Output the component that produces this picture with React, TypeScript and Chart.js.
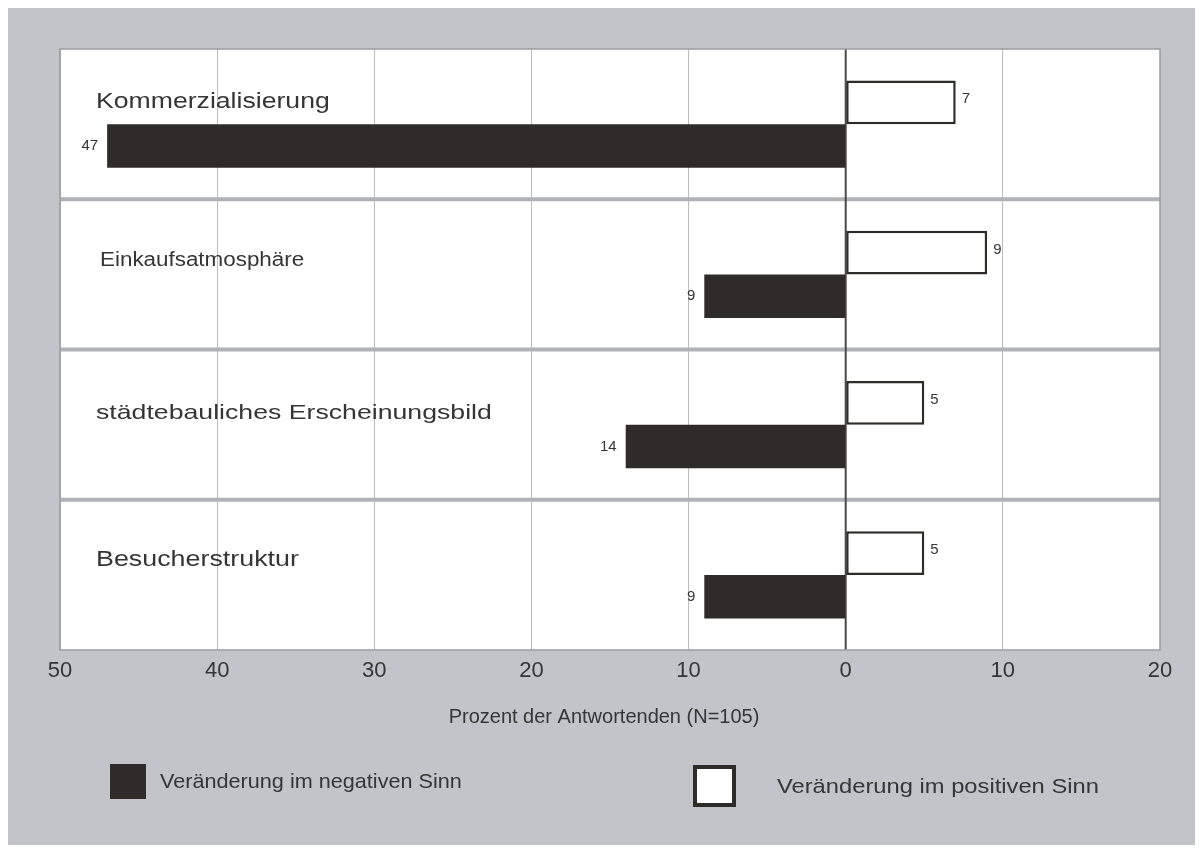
import React, { useEffect, useRef } from "react";
import { Chart, registerables } from "chart.js";

Chart.register(...registerables);

// ---- data ----
const categories = [
  "Kommerzialisierung",
  "Einkaufsatmosphäre",
  "städtebauliches Erscheinungsbild",
  "Besucherstruktur",
];
const positiveValues = [7, 9, 5, 5];
const negativeValues = [47, 9, 14, 9];
const xMin = -50;
const xMax = 20;
const xStep = 10;
const axisTitle = "Prozent der Antwortenden (N=105)";
const legendNegative = "Veränderung im negativen Sinn";
const legendPositive = "Veränderung im positiven Sinn";

// ---- styles ----
const FONT = '"Liberation Sans", Arial, Helvetica, sans-serif';
const TEXT = "#353535";
const DARK = "#2f2b29";
const PANEL = "#c2c4c9";
const SEPARATOR = "#b0b2b8";
const GRID = "#bcbcbc";
// per-label style: font size, horizontal stretch, x offset from plot left, baseline offset from top of positive bar
const labelStyle = [
  { size: 22, sx: 1.21, dx: 36, dy: 27 },
  { size: 20, sx: 1.12, dx: 40, dy: 35 },
  { size: 21, sx: 1.27, dx: 36, dy: 38 },
  { size: 22, sx: 1.22, dx: 36, dy: 35 },
];

function drawText(
  ctx: CanvasRenderingContext2D,
  text: string,
  x: number,
  y: number,
  size: number,
  sx: number,
  align: CanvasTextAlign = "left",
  baseline: CanvasTextBaseline = "alphabetic"
) {
  ctx.save();
  ctx.font = `${size}px ${FONT}`;
  ctx.fillStyle = TEXT;
  ctx.textAlign = align;
  ctx.textBaseline = baseline;
  ctx.translate(x, y);
  ctx.scale(sx, 1);
  ctx.fillText(text, 0, 0);
  ctx.restore();
}

const overlayPlugin = {
  id: "overlay",
  beforeDraw(chart: any) {
    const { ctx, chartArea: a } = chart;
    ctx.save();
    ctx.fillStyle = "#ffffff";
    ctx.fillRect(a.left, a.top, a.right - a.left, a.bottom - a.top);
    ctx.restore();
  },
  beforeDatasetsDraw(chart: any) {
    const { ctx, chartArea: a, scales } = chart;
    const x = scales.x;
    const y = scales.y;
    ctx.save();
    ctx.strokeStyle = SEPARATOR;
    ctx.lineWidth = 4;
    for (let i = 0; i < categories.length - 1; i++) {
      const yy = (y.getPixelForValue(i) + y.getPixelForValue(i + 1)) / 2;
      ctx.beginPath();
      ctx.moveTo(a.left, yy);
      ctx.lineTo(a.right, yy);
      ctx.stroke();
    }
    // zero line
    const x0 = x.getPixelForValue(0);
    ctx.strokeStyle = "#4a4a4a";
    ctx.lineWidth = 2;
    ctx.beginPath();
    ctx.moveTo(x0, a.top);
    ctx.lineTo(x0, a.bottom);
    ctx.stroke();
    // plot border
    ctx.strokeStyle = "#9a9ca2";
    ctx.lineWidth = 1.5;
    ctx.strokeRect(a.left, a.top, a.right - a.left, a.bottom - a.top);
    ctx.restore();
  },
  afterDatasetsDraw(chart: any) {
    const { ctx, chartArea: a } = chart;
    const posMeta = chart.getDatasetMeta(0);
    const negMeta = chart.getDatasetMeta(1);
    posMeta.data.forEach((el: any, i: number) => {
      drawText(ctx, String(positiveValues[i]), el.x + 6, el.y - 3, 15, 1, "left", "middle");
      const st = labelStyle[i];
      const top = el.y - el.height / 2;
      drawText(ctx, categories[i], a.left + st.dx, top + st.dy, st.size, st.sx, "left", "alphabetic");
    });
    negMeta.data.forEach((el: any, i: number) => {
      drawText(ctx, String(negativeValues[i]), el.x - 9, el.y, 15, 1, "right", "middle");
    });
  },
  afterDraw(chart: any) {
    const { ctx } = chart;
    // axis title
    drawText(ctx, axisTitle, 596, 709, 20, 1, "center", "middle");
    // legend: negative
    ctx.save();
    ctx.fillStyle = DARK;
    ctx.fillRect(102, 756, 36, 35);
    ctx.restore();
    drawText(ctx, legendNegative, 152, 774, 21, 1.03, "left", "middle");
    // legend: positive
    ctx.save();
    ctx.fillStyle = "#ffffff";
    ctx.fillRect(687, 759, 39, 38);
    ctx.strokeStyle = DARK;
    ctx.lineWidth = 4;
    ctx.strokeRect(687, 759, 39, 38);
    ctx.restore();
    drawText(ctx, legendPositive, 769, 779, 21, 1.13, "left", "middle");
  },
};

export default function App() {
  const canvasRef = useRef<HTMLCanvasElement | null>(null);

  useEffect(() => {
    if (!canvasRef.current) return;
    const chart = new Chart(canvasRef.current, {
      type: "bar",
      data: {
        labels: categories,
        datasets: [
          {
            label: legendPositive,
            data: positiveValues,
            backgroundColor: "#ffffff",
            borderColor: DARK,
            borderWidth: 2.5,
            borderSkipped: false,
          },
          {
            label: legendNegative,
            data: negativeValues.map((v) => -v),
            backgroundColor: DARK,
            borderWidth: 0,
          },
        ],
      },
      plugins: [overlayPlugin],
      options: {
        indexAxis: "y",
        animation: false,
        responsive: true,
        maintainAspectRatio: false,
        datasets: {
          bar: { categoryPercentage: 0.58, barPercentage: 1 },
        },
        layout: { padding: { left: 52, right: 35, top: 41, bottom: 0 } },
        plugins: {
          legend: { display: false },
          tooltip: { enabled: false },
          title: { display: false },
        },
        scales: {
          x: {
            type: "linear",
            min: xMin,
            max: xMax,
            afterFit: (scale: any) => {
              scale.height = 195;
            },
            ticks: {
              stepSize: xStep,
              autoSkip: false,
              maxRotation: 0,
              padding: 8,
              color: TEXT,
              font: { family: FONT, size: 22 },
              callback: (v: any) => String(Math.abs(Number(v))),
            },
            grid: {
              drawTicks: false,
              color: (c: any) => (c.tick && c.tick.value === 0 ? "rgba(0,0,0,0)" : GRID),
              lineWidth: 1,
            },
            border: { display: false },
          },
          y: {
            type: "category",
            display: false,
          },
        },
      },
    } as any);
    return () => chart.destroy();
  }, []);

  return (
    <div style={{ background: PANEL, height: 837, position: "relative" }}>
      <canvas ref={canvasRef} style={{ display: "block", width: "100%", height: "100%" }} />
    </div>
  );
}
